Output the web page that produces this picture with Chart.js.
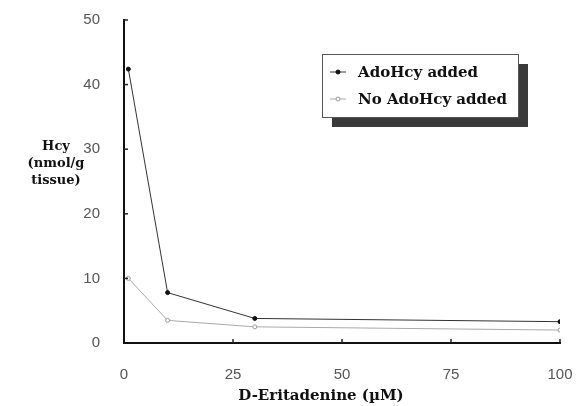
<!DOCTYPE html>
<html>
<head>
<meta charset="utf-8">
<script src="https://cdn.jsdelivr.net/npm/chart.js@4"></script>
<style>
  html, body { margin: 0; padding: 0; background: #fff; }
  #wrap { width: 576px; height: 406px; position: relative; }
</style>
</head>
<body>
<div id="wrap"><canvas id="chart" width="576" height="406"></canvas></div>
<script>
// Hcy vs D-Eritadenine concentration
const doses = [1, 10, 30, 100];
const withAdoHcy = [42.4, 7.8, 3.8, 3.3];
const noAdoHcy = [10.0, 3.5, 2.5, 2.0];
const xTicks = [0, 25, 50, 75, 100];
const yTicks = [0, 10, 20, 30, 40, 50];
const seriesNames = ['AdoHcy added', 'No AdoHcy added'];
const yTitle = ['Hcy', '(nmol/g', 'tissue)'];
const xTitle = 'D-Eritadenine (\u00b5M)';

const serif = '"DejaVu Serif", serif';
const tickFont = { family: '"Liberation Sans", sans-serif', size: 15 };

const toXY = (xs, ys) => xs.map((x, i) => ({ x, y: ys[i] }));

// inward tick marks, axis titles and the shadowed legend box
const decor = {
  id: 'decor',
  afterDraw(chart) {
    const { ctx, chartArea: a, scales: { x, y } } = chart;
    ctx.save();
    ctx.strokeStyle = '#222';
    ctx.lineWidth = 1.5;
    yTicks.slice(1).forEach(v => {
      const py = y.getPixelForValue(v);
      ctx.beginPath(); ctx.moveTo(a.left, py); ctx.lineTo(a.left + 4, py); ctx.stroke();
    });
    xTicks.slice(1).forEach(v => {
      const px = x.getPixelForValue(v);
      ctx.beginPath(); ctx.moveTo(px, a.bottom); ctx.lineTo(px, a.bottom - 4); ctx.stroke();
    });

    ctx.fillStyle = '#111';
    ctx.textAlign = 'center';
    ctx.textBaseline = 'middle';
    ctx.font = 'bold 13px ' + serif;
    yTitle.forEach((t, i) => ctx.fillText(t, 56, 147 + i * 17));
    ctx.font = 'bold 15px ' + serif;
    ctx.fillText(xTitle, 321, 396);

    // legend
    const lx = 322, ly = 54, lw = 196, lh = 63;
    ctx.fillStyle = '#3a3a3a';
    ctx.fillRect(lx + 10, ly + 10, lw, lh);
    ctx.fillStyle = '#fff';
    ctx.fillRect(lx, ly, lw, lh);
    ctx.strokeStyle = '#555';
    ctx.lineWidth = 1;
    ctx.strokeRect(lx + 0.5, ly + 0.5, lw, lh);

    const rows = [
      { y: 72, line: '#333', dot: '#111', fill: true },
      { y: 99, line: '#aaa', dot: '#999', fill: false }
    ];
    rows.forEach((r, i) => {
      ctx.strokeStyle = r.line;
      ctx.lineWidth = 1;
      ctx.beginPath(); ctx.moveTo(330, r.y); ctx.lineTo(346, r.y); ctx.stroke();
      ctx.beginPath(); ctx.arc(338, r.y, 2, 0, Math.PI * 2);
      ctx.fillStyle = r.fill ? r.dot : '#fff';
      ctx.fill();
      ctx.strokeStyle = r.dot;
      ctx.stroke();
      ctx.fillStyle = '#111';
      ctx.font = 'bold 15px ' + serif;
      ctx.textAlign = 'left';
      ctx.fillText(seriesNames[i], 358, r.y + 1);
    });
    ctx.restore();
  }
};

new Chart(document.getElementById('chart'), {
  type: 'line',
  data: {
    datasets: [
      {
        label: seriesNames[0],
        data: toXY(doses, withAdoHcy),
        borderColor: '#333',
        borderWidth: 1,
        pointRadius: 2,
        pointBackgroundColor: '#111',
        pointBorderColor: '#111',
        tension: 0
      },
      {
        label: seriesNames[1],
        data: toXY(doses, noAdoHcy),
        borderColor: '#a8a8a8',
        borderWidth: 1,
        pointRadius: 2,
        pointBackgroundColor: '#fff',
        pointBorderColor: '#999',
        tension: 0
      }
    ]
  },
  options: {
    responsive: false,
    animation: false,
    layout: { padding: { top: 20, right: 16, left: 0, bottom: 0 } },
    plugins: { legend: { display: false }, tooltip: { enabled: false } },
    scales: {
      x: {
        type: 'linear',
        min: 0, max: 100,
        afterBuildTicks: (s) => { s.ticks = xTicks.map(v => ({ value: v })); },
        afterFit: (s) => { s.height = 63; s.paddingLeft = 0; s.paddingRight = 0; },
        grid: { display: false },
        border: { color: '#111', width: 2 },
        ticks: { color: '#555', font: tickFont, padding: 15 }
      },
      y: {
        min: 0, max: 50,
        afterBuildTicks: (s) => { s.ticks = yTicks.map(v => ({ value: v })); },
        afterFit: (s) => { s.width = 124; s.paddingTop = 0; s.paddingBottom = 0; },
        grid: { display: false },
        border: { color: '#111', width: 2 },
        ticks: { color: '#555', font: tickFont, padding: 16 }
      }
    }
  },
  plugins: [decor]
});
</script>
</body>
</html>
